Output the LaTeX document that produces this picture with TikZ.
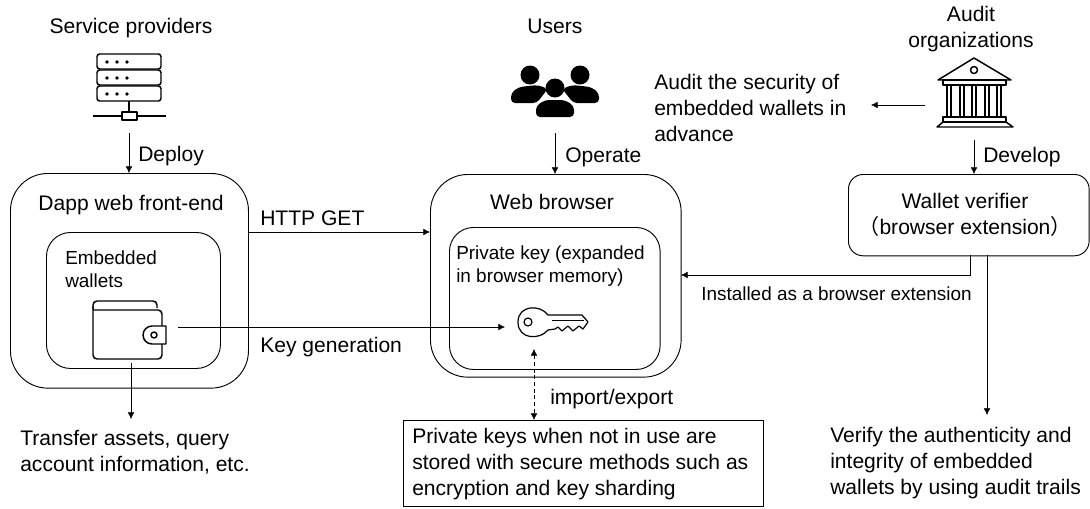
\documentclass[tikz,border=0pt]{standalone}
\usepackage{fontspec}
\setmainfont{Liberation Sans}
\newfontfamily\cjk{Noto Sans CJK SC}
\usetikzlibrary{arrows.meta}
\tikzset{
    outerbox/.style={draw, rounded corners=28, line width=.7pt},
    innerbox/.style={draw, rounded corners=18, line width=.7pt},
    txt/.style={font=\fontsize{15.8}{19.2}\selectfont, align=left, inner sep=0pt},
    smalltxt/.style={font=\fontsize{14.2}{17}\selectfont, align=left, inner sep=0pt},
    conn/.style={-{Latex[length=5pt,width=5pt]}, line width=.4pt},
    icon/.style={line width=1.1pt, line join=round}
}
\begin{document}
\begin{tikzpicture}[x=.75pt, y=-.75pt]
\useasboundingbox (0,0) rectangle (1090,508);
% boxes
\node (dapp)[outerbox, minimum width=178.5pt, minimum height=161pt, anchor=north west] at (10,173){};
\node (walletbox)[innerbox, minimum width=130.5pt, minimum height=102pt, anchor=north west] at (46,232){};
\node (browser)[outerbox, minimum width=188pt, minimum height=152pt, anchor=north west] at (430,174){};
\node (keybox)[innerbox, minimum width=158pt, minimum height=106.5pt, anchor=north west] at (449,227){};
\node (verifier)[draw, rounded corners=11, line width=.7pt, minimum width=180.5pt, minimum height=61pt, anchor=north west] at (848,174){};
\node (storage)[draw, line width=.7pt, minimum width=270pt, minimum height=64.5pt, anchor=north west] at (403,420){};
% texts
\node (provlabel)[txt] at (131,28){Service providers};
\node (userlabel)[txt] at (555,26){Users};
\node (auditlabel)[txt, align=center] at (971,29){Audit\\organizations};
\node (advance)[txt, anchor=west] at (654,108){Audit the security of\\embedded wallets in\\advance};
\node (deploy)[txt, anchor=west] at (138,156){Deploy};
\node (operate)[txt, anchor=west] at (565,157){Operate};
\node (develop)[txt, anchor=west] at (983,157){Develop};
\node (dapplabel)[txt] at (131,205){Dapp web front-end};
\node (browserlabel)[txt] at (552,202){Web browser};
\node (verifierlabel)[txt, align=center] at (965,215){Wallet verifier\\{\cjk （}browser extension{\cjk ）}};
\node (httpget)[txt, anchor=west] at (260,218){HTTP GET};
\node (walletlabel)[smalltxt, anchor=west] at (65,269){Embedded\\wallets};
\node (keylabel)[smalltxt, anchor=west] at (456,266){Private key (expanded\\in browser memory)};
\node (keygen)[txt, anchor=west] at (260,347){Key generation};
\node (installed)[smalltxt, anchor=west] at (701,294){Installed as a browser extension};
\node (importexport)[txt, anchor=west] at (550,399){import/export};
\node (transfer)[txt, anchor=west] at (20,452){Transfer assets, query\\account information, etc.};
\node (storagetext)[txt, anchor=west] at (412,464){Private keys when not in use are\\stored with secure methods such as\\encryption and key sharding};
\node (verify)[txt, anchor=west] at (830,463){Verify the authenticity and\\integrity of embedded\\wallets by using audit trails};
% free ends
\coordinate (serverend) at (129,133);
\coordinate (usersend) at (555,133);
\coordinate (bankend) at (974,140);
\coordinate (bankleft) at (925,105);
\coordinate (advanceend) at (871,105);
\coordinate (walletright) at (178,327);
\coordinate (keyleft) at (505,327);
\coordinate (walletdown) at (131,363);
\coordinate (transferend) at (131,419);
\coordinate (keydown) at (534,349);
\coordinate (verifyend) at (987,415);
\coordinate (installstart) at (970,255);
\coordinate (installturn) at (970,275);
\coordinate (verifystart) at (987,255);
\coordinate (httpstart) at (248,232);
\coordinate (httpend) at (430,232);
\coordinate (installend) at (681,275);
% connectors
\draw[conn] (serverend)--(serverend |- dapp.north);
\draw[conn] (usersend)--(usersend |- browser.north);
\draw[conn] (bankend)--(bankend |- verifier.north);
\draw[conn] (bankleft)--(advanceend);
\draw[conn] (httpstart)--(httpend);
\draw[conn] (walletright)--(keyleft);
\draw[conn] (walletdown)--(transferend);
\draw[conn, {Latex[length=5pt,width=5pt]}-{Latex[length=5pt,width=5pt]}, densely dashed] (keydown)--(keydown |- storage.north);
\draw[conn] (installstart)--(installturn)--(installend);
\draw[conn] (verifystart)--(verifyend);
% server icon
\foreach \y in {54,70,86}
{
    \draw[icon, rounded corners=2] (97,\y)rectangle(161,\y+15);
    \foreach \x in {107,117,127}
    {
        \fill (\x,\y+8) circle (1.8);
    }
}
\draw[icon] (129,101)--(129,112);
\draw[icon] (93,116)--(122,116);
\draw[icon] (137,116)--(166,116);
\draw[icon] (122,112)rectangle(137,120);
% users icon
\foreach \x in {530,580}
{
    \fill (\x,75) circle (9.5);
}
\fill[rounded corners=3] (511,103)--(511,93)--(519,87)--(538,85)--(548,89)--(542,96)--(537,103)--cycle;
\fill[rounded corners=3] (599,103)--(599,93)--(591,87)--(572,85)--(562,89)--(568,96)--(573,103)--cycle;
\fill (555,88) circle (9.5);
\fill[rounded corners=3] (536,117)--(536,106)--(545,100)--(565,100)--(574,106)--(574,117)--cycle;
% bank icon
\draw[icon] (938,80)--(974,58)--(1011,80)--cycle;
\draw[icon] (974,70) circle (3.5);
\draw[icon] (943,80)rectangle(1006,85);
\foreach \x in {948,961,973,986,998}
{
    \draw[icon] (\x-1,85)--(\x-1,117);
    \draw[icon] (\x+3,85)--(\x+3,117);
}
\draw[icon] (943,117)rectangle(1006,122);
\draw[icon] (937,127)--(943,122)--(1006,122)--(1013,127)--cycle;
% wallet icon
\draw[icon, rounded corners=3] (157,308)--(157,301)--(93,301)--(93,309);
\draw[icon, rounded corners=3] (93,306)--(93,359)--(162,359)--(162,310)--(93,310);
\fill[white] (143,326)rectangle(166,344);
\draw[icon] (166,326)--(152,326) arc (270:90:9)--(166,344)--cycle;
\draw[icon] (154,335) circle (3);
% key icon
\draw[icon, line width=.9pt] (528,322) circle (4);
\draw[icon, line width=.9pt] (548,315)..controls (540,304) and (518,305) .. (518,322)..controls (518,340) and (540,340) .. (548,330)--(555,329)--(558,327)--(562,331)--(568,326)--(573,331)--(579,326)--(583,329)--(588,322)--(582,315)--cycle;
\draw[icon, line width=.7pt] (552,320)--(584,320);
\end{tikzpicture}
\end{document}
